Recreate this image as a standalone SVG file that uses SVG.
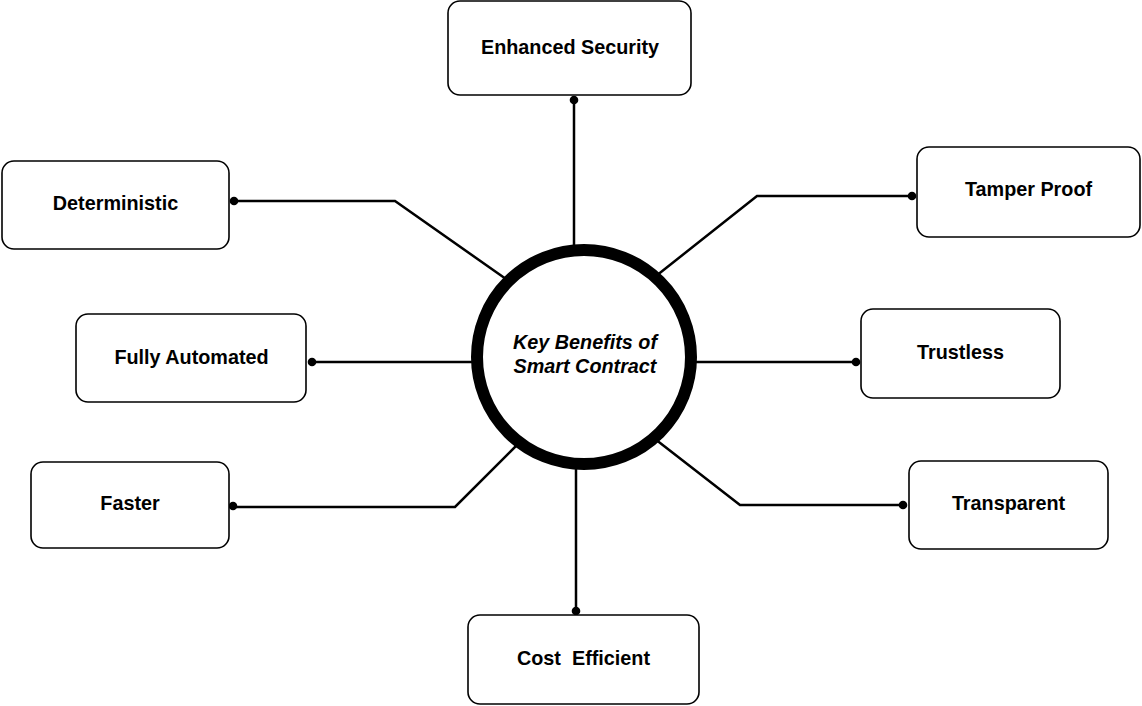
<svg xmlns="http://www.w3.org/2000/svg" width="1142" height="706" viewBox="0 0 1142 706">
<style>
.box{fill:#fff;stroke:#000;stroke-width:1.6}
.lbl{font-family:"Liberation Sans",Arial,sans-serif;font-weight:bold;font-size:19.8px;fill:#000;text-anchor:middle;white-space:pre}
.ctr{font-family:"Liberation Sans",Arial,sans-serif;font-weight:bold;font-style:italic;font-size:19.8px;fill:#000;text-anchor:middle}
.con{fill:none;stroke:#000;stroke-width:2.5}
.dot{fill:#000}
</style>
<rect width="1142" height="706" fill="#fff"/>
<g id="connectors">
<polyline class="con" points="234,201 395,201 506,279"/>
<polyline class="con" points="912,196 757,196 656,276"/>
<polyline class="con" points="574,100 574,250"/>
<polyline class="con" points="312,362 477,362"/>
<polyline class="con" points="692,362 856,362"/>
<polyline class="con" points="233,507 455,507 518,444"/>
<polyline class="con" points="903,505 740,505 655,439"/>
<polyline class="con" points="576,464 576,611"/>
<circle class="dot" cx="234" cy="201" r="4.3"/>
<circle class="dot" cx="912" cy="196" r="4.3"/>
<circle class="dot" cx="574" cy="100" r="4.3"/>
<circle class="dot" cx="312" cy="362" r="4.3"/>
<circle class="dot" cx="856" cy="362" r="4.3"/>
<circle class="dot" cx="233" cy="506" r="4.3"/>
<circle class="dot" cx="903" cy="505" r="4.3"/>
<circle class="dot" cx="576" cy="611" r="4.3"/>
</g>
<g id="center">
<circle cx="584" cy="357" r="107" fill="#fff" stroke="#000" stroke-width="12"/>
<text class="ctr" x="585" y="349">Key Benefits of</text>
<text class="ctr" x="585" y="373">Smart Contract</text>
</g>
<g id="enhanced-security">
<rect class="box" x="448" y="1" width="243" height="94" rx="12"/>
<text class="lbl" x="570" y="54">Enhanced Security</text>
</g>
<g id="deterministic">
<rect class="box" x="2" y="161" width="227" height="88" rx="12"/>
<text class="lbl" x="115.5" y="210">Deterministic</text>
</g>
<g id="tamper-proof">
<rect class="box" x="917" y="147" width="223" height="90" rx="12"/>
<text class="lbl" x="1028.5" y="196">Tamper Proof</text>
</g>
<g id="fully-automated">
<rect class="box" x="76" y="314" width="230" height="88" rx="12"/>
<text class="lbl" x="191.5" y="364">Fully Automated</text>
</g>
<g id="trustless">
<rect class="box" x="861" y="309" width="199" height="89" rx="12"/>
<text class="lbl" x="960.5" y="359">Trustless</text>
</g>
<g id="faster">
<rect class="box" x="31" y="462" width="198" height="86" rx="12"/>
<text class="lbl" x="130" y="510">Faster</text>
</g>
<g id="transparent">
<rect class="box" x="909" y="461" width="199" height="88" rx="12"/>
<text class="lbl" x="1008.5" y="510">Transparent</text>
</g>
<g id="cost-efficient">
<rect class="box" x="468" y="615" width="231" height="89" rx="12"/>
<text class="lbl" x="583.5" y="665" xml:space="preserve">Cost  Efficient</text>
</g>
</svg>
